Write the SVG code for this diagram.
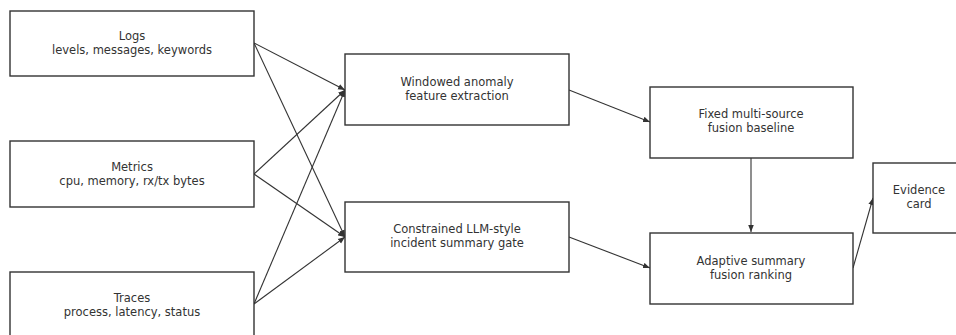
<svg xmlns="http://www.w3.org/2000/svg" width="956" height="335" viewBox="0 0 956 335">
<style>
.box{fill:#fff;stroke:#333;stroke-width:1.4}
.t{font-family:"DejaVu Sans",sans-serif;font-size:11.5px;fill:#333;text-anchor:middle}
.e{stroke:#333;stroke-width:1.1;fill:none;marker-end:url(#ah)}
</style>
<defs>
<marker id="ah" viewBox="0 0 10 10" refX="10" refY="5" markerWidth="7" markerHeight="7" markerUnits="userSpaceOnUse" orient="auto">
<path d="M0,1 L10,5 L0,9 z" fill="#333"/>
</marker>
</defs>
<rect width="956" height="335" fill="#fff"/>
<g id="edges">
<line class="e" x1="254" y1="43" x2="345" y2="90"/>
<line class="e" x1="254" y1="43" x2="345" y2="237"/>
<line class="e" x1="254" y1="174" x2="345" y2="90"/>
<line class="e" x1="254" y1="174" x2="345" y2="237"/>
<line class="e" x1="254" y1="304" x2="345" y2="90"/>
<line class="e" x1="254" y1="304" x2="345" y2="237"/>
<line class="e" x1="569" y1="90" x2="650" y2="122"/>
<line class="e" x1="569" y1="237" x2="650" y2="268"/>
<line class="e" x1="751" y1="158" x2="751" y2="232"/>
<line class="e" x1="853" y1="268" x2="873" y2="198"/>
</g>
<g id="logs"><rect class="box" x="10" y="11" width="244" height="65"/><text class="t" x="132" y="40">Logs</text><text class="t" x="132" y="54">levels, messages, keywords</text></g>
<g id="metrics"><rect class="box" x="10" y="141" width="244" height="66"/><text class="t" x="132" y="171">Metrics</text><text class="t" x="132" y="185">cpu, memory, rx/tx bytes</text></g>
<g id="traces"><rect class="box" x="10" y="272" width="244" height="66"/><text class="t" x="132" y="302">Traces</text><text class="t" x="132" y="316">process, latency, status</text></g>
<g id="windowed"><rect class="box" x="345" y="54" width="224" height="71"/><text class="t" x="457" y="86">Windowed anomaly</text><text class="t" x="457" y="100">feature extraction</text></g>
<g id="constrained"><rect class="box" x="345" y="202" width="224" height="70"/><text class="t" x="457" y="233">Constrained LLM-style</text><text class="t" x="457" y="247">incident summary gate</text></g>
<g id="fixed"><rect class="box" x="650" y="87" width="203" height="71"/><text class="t" x="751" y="118">Fixed multi-source</text><text class="t" x="751" y="132">fusion baseline</text></g>
<g id="adaptive"><rect class="box" x="650" y="233" width="203" height="71"/><text class="t" x="751" y="265">Adaptive summary</text><text class="t" x="751" y="279">fusion ranking</text></g>
<g id="evidence"><rect class="box" x="873" y="163" width="92" height="70"/><text class="t" x="919" y="194">Evidence</text><text class="t" x="919" y="208">card</text></g>
</svg>
